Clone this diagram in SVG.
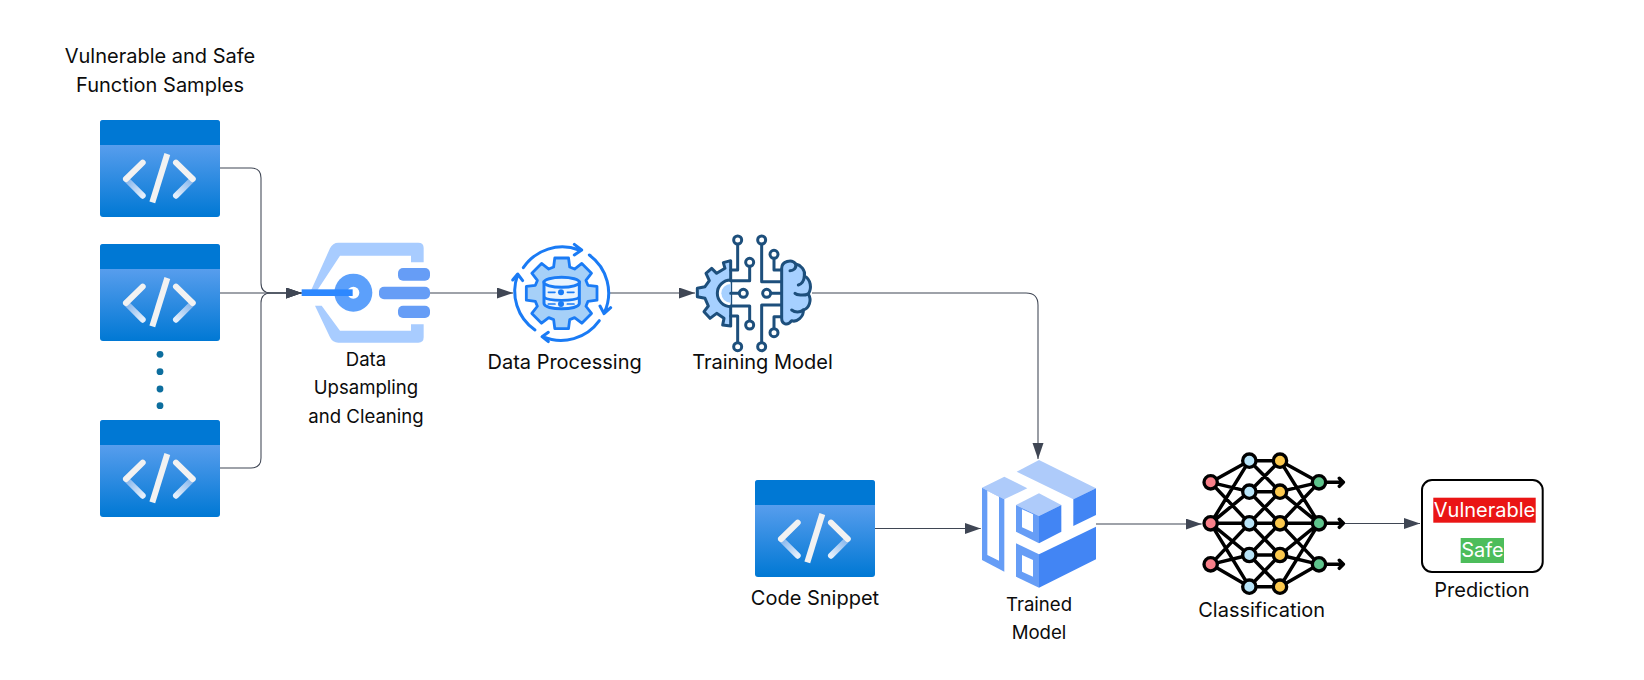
<svg xmlns="http://www.w3.org/2000/svg" width="1644" height="680" viewBox="0 0 1644 680">
<style>
text{font-family:"Inter","Liberation Sans",sans-serif;font-size:20px;fill:#0c0c0c;text-anchor:middle}
text.small{font-size:18.6px}
.conn{fill:none;stroke:#3f4654;stroke-width:1.05;marker-end:url(#arrow)}
.light{fill:#aecbfa}.mid{fill:#669df6}.deep{fill:#4285f4}.white{fill:#fff}
.tm{fill:none;stroke:#1d4f7c;stroke-width:9;stroke-linejoin:round;stroke-linecap:round}
.tmn{fill:#fff;stroke:#1d4f7c;stroke-width:9}
.dp{fill:none;stroke:#1a7bf5;stroke-width:9;stroke-linecap:round;stroke-linejoin:round}
.nn{fill:none;stroke:#000;stroke-width:10.5;stroke-linecap:round;stroke-linejoin:round}
.nc{stroke:#000;stroke-width:10}
</style>
<defs>
<marker id="arrow" markerUnits="userSpaceOnUse" markerWidth="17" markerHeight="12" refX="16" refY="5.5" orient="auto"><path d="M0 0L16 5.5L0 11Z" fill="#3f4654"/></marker>
<linearGradient id="body" x1="0" y1="0" x2="0" y2="1"><stop offset="0" stop-color="#5ea0ef"/><stop offset="0.2" stop-color="#5ea0ef"/><stop offset="1" stop-color="#0078d4"/></linearGradient>
<linearGradient id="fade1" x1="0" y1="0" x2="1" y2="1"><stop offset="0" stop-color="#7fb2ec"/><stop offset="1" stop-color="#e4effb"/></linearGradient>
<linearGradient id="fade2" x1="1" y1="0" x2="0" y2="1"><stop offset="0" stop-color="#7fb2ec"/><stop offset="1" stop-color="#e4effb"/></linearGradient>
<g id="code">
<path d="M3 0H117a3 3 0 0 1 3 3V94a3 3 0 0 1-3 3H3a3 3 0 0 1-3-3V3a3 3 0 0 1 3-3Z" fill="url(#body)"/>
<path d="M3 0H117a3 3 0 0 1 3 3V25H0V3a3 3 0 0 1 3-3Z" fill="#0078d4"/>
<g fill="none" stroke-width="6" stroke-linecap="round">
<path d="M26 59L42.7 75.7" stroke="url(#fade1)"/>
<path d="M92.7 59L76 75.7" stroke="url(#fade2)"/>
<path d="M42.7 42.7L26 59M76 42.7L92.7 59" stroke="#f2f2f2"/>
<path d="M67.3 34L52.3 82.3" stroke="#f2f2f2" stroke-linecap="butt"/>
</g>
</g>
</defs>
<g id="connectors">
<path class="conn" d="M220 168H251Q261 168 261 178V283Q261 293 271 293H301.7"/>
<path class="conn" d="M220 293H301.7"/>
<path class="conn" d="M220 468H251Q261 468 261 458V303Q261 293 271 293H301.7"/>
<path class="conn" d="M430 293H513"/>
<path class="conn" d="M609 293H695"/>
<path class="conn" d="M812 293H1026Q1038 293 1038 305V459"/>
<path class="conn" d="M875 528.5H980.7"/>
<path class="conn" d="M1096 524H1201.7"/>
<path class="conn" d="M1345 523.5H1420"/>
</g>
<text x="160" y="62.7">Vulnerable and Safe</text>
<text x="160" y="92">Function Samples</text>
<g id="sample1"><use href="#code" x="100" y="120"/></g>
<g id="sample2"><use href="#code" x="100" y="244"/></g>
<g id="dots" fill="#0d6e9e"><circle cx="160" cy="354.3" r="3.4"/><circle cx="160" cy="371.7" r="3.4"/><circle cx="160" cy="389" r="3.4"/><circle cx="160" cy="405.7" r="3.4"/></g>
<g id="sample3"><use href="#code" x="100" y="420"/></g>
<g id="upsampling">
<g transform="translate(280 220) scale(.33333)">
<path d="M175 68H415Q431 68 431 84V127H393V107H180L107 218L90 218L150 85Q158 68 175 68Z" fill="#a8ccff"/>
<path d="M105 257H125L180 332H393V313H431V352Q431 368 415 368H175Q158 368 150 352Z" fill="#a8ccff"/>
<circle cx="220" cy="218" r="57" fill="#5ca0fb"/><circle cx="220" cy="218" r="18" fill="#fff"/>
<rect x="65" y="208" width="153" height="20" fill="#2d88ff"/>
<rect class="mid" x="354" y="144" width="96" height="38" rx="15"/>
<rect class="mid" x="297" y="200" width="153" height="38" rx="15"/>
<rect class="mid" x="354" y="257" width="96" height="37" rx="15"/>
</g>
<text class="small" x="366" y="366">Data</text><text class="small" x="366" y="394">Upsampling</text><text class="small" x="366" y="422.7">and Cleaning</text>
</g>
<g id="processing">
<g transform="translate(480 220) scale(.33333)">
<g transform="translate(245 220) scale(3)">
<path d="M-8.04 -26.3L-6.87 -35.34L6.87 -35.34L8.04 -26.3L12.91 -24.28L20.13 -29.85L29.85 -20.13L24.28 -12.91L26.3 -8.04L35.34 -6.87L35.34 6.87L26.3 8.04L24.28 12.91L29.85 20.13L20.13 29.85L12.91 24.28L8.04 26.3L6.87 35.34L-6.87 35.34L-8.04 26.3L-12.91 24.28L-20.13 29.85L-29.85 20.13L-24.28 12.91L-26.3 8.04L-35.34 6.87L-35.34 -6.87L-26.3 -8.04L-24.28 -12.91L-29.85 -20.13L-20.13 -29.85L-12.91 -24.28Z" fill="#a6d0f8" stroke="#1a7bf5" stroke-width="2.8" stroke-linejoin="round"/>
</g>
<path class="dp" d="M130 143A141 141 0 0 1 297 90M283 73L305 90L283 105"/>
<path class="dp" d="M328 105A141 141 0 0 1 373 278M392 263L372 281L360 258"/>
<path class="dp" d="M358 302A141 141 0 0 1 188 350M205 337L186 350L205 365"/>
<path class="dp" d="M165 330A141 141 0 0 1 113 165M98 180L113 162L128 182"/>
<path d="M192 187V250C192 272 298 272 298 250V187Z" fill="#eaf4fe" stroke="#1a7bf5" stroke-width="9"/>
<ellipse cx="245" cy="187" rx="53" ry="15" fill="#eaf4fe" stroke="#1a7bf5" stroke-width="9"/>
<path d="M192 232C205 244 285 244 298 232" fill="none" stroke="#1a7bf5" stroke-width="8"/>
<path class="dp" d="M205 217H225M262 217H282M205 252H225M262 252H282" style="stroke-width:5"/>
<circle cx="243" cy="217" r="9" fill="#1a7bf5"/><circle cx="243" cy="252" r="9" fill="#1a7bf5"/>
</g>
<text x="564.6" y="369">Data Processing</text>
</g>
<g id="training">
<g transform="translate(680 220) scale(.33333)">
<path class="tm" style="fill:#a6d0ff" d="M152 122L130 128L135 145L110 160L95 145L78 160L88 182L75 200L52 205V230L75 235L85 258L72 275L90 295L110 280L132 295L128 315L152 318Z"/>
<path d="M152 180A40 40 0 0 0 152 260" class="tm" style="fill:#fff"/>
<path d="M152 192A28 28 0 0 0 152 248Z" style="fill:#a6d0ff"/>
<path class="tm" d="M173 72V150H152M209 139V182H152M152 220H178M152 258H209V303M152 288H173V368M245 72V185H305M282 115V150H305M272 220H305M245 368V255H305M282 326V290H305"/>
<circle class="tmn" cx="173" cy="60" r="12"/><circle class="tmn" cx="209" cy="127" r="12"/><circle class="tmn" cx="190" cy="220" r="12"/><circle class="tmn" cx="209" cy="315" r="12"/><circle class="tmn" cx="173" cy="380" r="12"/>
<circle class="tmn" cx="245" cy="60" r="12"/><circle class="tmn" cx="282" cy="103" r="12"/><circle class="tmn" cx="260" cy="220" r="12"/><circle class="tmn" cx="282" cy="338" r="12"/><circle class="tmn" cx="245" cy="380" r="12"/>
<path class="tm" style="fill:#a6d0ff" d="M305 145C305 125 335 115 347 132C362 135 377 150 373 168C393 178 396 205 385 222C396 240 388 265 370 270C372 290 350 308 335 302C322 320 305 312 305 295Z"/>
<path class="tm" d="M347 132C350 145 340 152 330 152M373 168C372 182 365 192 355 195M385 222C370 228 350 225 345 220M370 270C360 278 345 278 335 270"/>
</g>
<text x="762.5" y="369">Training Model</text>
</g>
<g id="snippet"><use href="#code" x="755" y="480"/><text x="815" y="605">Code Snippet</text></g>
<g id="trained">
<g transform="translate(960 440) scale(.33333)">
<path class="light" d="M170 95L237 60L408 145L340 178Z"/>
<path class="deep" d="M340 178L408 145V225L340 258Z"/>
<path class="light" d="M66 143L133 110L202 145L133 178Z"/>
<path class="mid" d="M66 143L133 178V395L66 360Z"/>
<path class="white" d="M82 152L117 170V362L82 345Z"/>
<path class="light" d="M168 195L237 160L304 195L237 228Z"/>
<path class="mid" d="M168 195L237 228V310L168 275Z"/>
<path class="white" d="M186 208L219 223V277L186 262Z"/>
<path class="deep" d="M237 228L304 195V275L237 310Z"/>
<path class="mid" d="M168 310L237 343V443L168 410Z"/>
<path class="white" d="M186 345L219 360V410L186 395Z"/>
<path class="deep" d="M237 343L408 260V358L237 443Z"/>
</g>
<text class="small" x="1039" y="610.7">Trained</text><text class="small" x="1039" y="639">Model</text>
</g>
<g id="classification">
<g transform="translate(1180 440) scale(.33333)">
<path class="nn" d="M92 127L208 62M92 127L208 155M92 127L208 250M92 250L208 62M92 250L208 155M92 250L208 250M92 250L208 345M92 250L208 440M92 373L208 250M92 373L208 345M92 373L208 440"/>
<path class="nn" d="M208 62H300M208 155H300M208 250H300M208 345H300M208 440H300M208 62L300 155M208 155L300 62M208 155L300 250M208 250L300 155M208 250L300 345M208 345L300 250M208 345L300 440M208 440L300 345"/>
<path class="nn" d="M417 127L300 62M417 127L300 155M417 127L300 250M417 250L300 62M417 250L300 155M417 250L300 250M417 250L300 345M417 250L300 440M417 373L300 250M417 373L300 345M417 373L300 440"/>
<path class="nn" d="M417 127H488M478 115L490 127L478 139M417 250H488M478 238L490 250L478 262M417 373H488M478 361L490 373L478 385"/>
<g class="nc" fill="#f9808a"><circle cx="92" cy="127" r="20"/><circle cx="92" cy="250" r="20"/><circle cx="92" cy="373" r="20"/></g>
<g class="nc" fill="#b8e4f8"><circle cx="208" cy="62" r="20"/><circle cx="208" cy="155" r="20"/><circle cx="208" cy="250" r="20"/><circle cx="208" cy="345" r="20"/><circle cx="208" cy="440" r="20"/></g>
<g class="nc" fill="#fcc94e"><circle cx="300" cy="62" r="20"/><circle cx="300" cy="155" r="20"/><circle cx="300" cy="250" r="20"/><circle cx="300" cy="345" r="20"/><circle cx="300" cy="440" r="20"/></g>
<g class="nc" fill="#5ec48c"><circle cx="417" cy="127" r="20"/><circle cx="417" cy="250" r="20"/><circle cx="417" cy="373" r="20"/></g>
</g>
<text x="1261.7" y="616.7">Classification</text>
</g>
<g id="prediction">
<rect x="1422" y="480" width="120.7" height="92" rx="10" fill="#fff" stroke="#000" stroke-width="2"/>
<rect x="1433.3" y="497.7" width="102.4" height="25" fill="#ea1515"/>
<text x="1484.5" y="516.7" style="fill:#fff">Vulnerable</text>
<rect x="1460.7" y="538" width="43.3" height="25" fill="#4dbd5b"/>
<text x="1482.5" y="556.7" style="fill:#fff">Safe</text>
<text x="1482" y="597.3">Prediction</text>
</g>
</svg>
